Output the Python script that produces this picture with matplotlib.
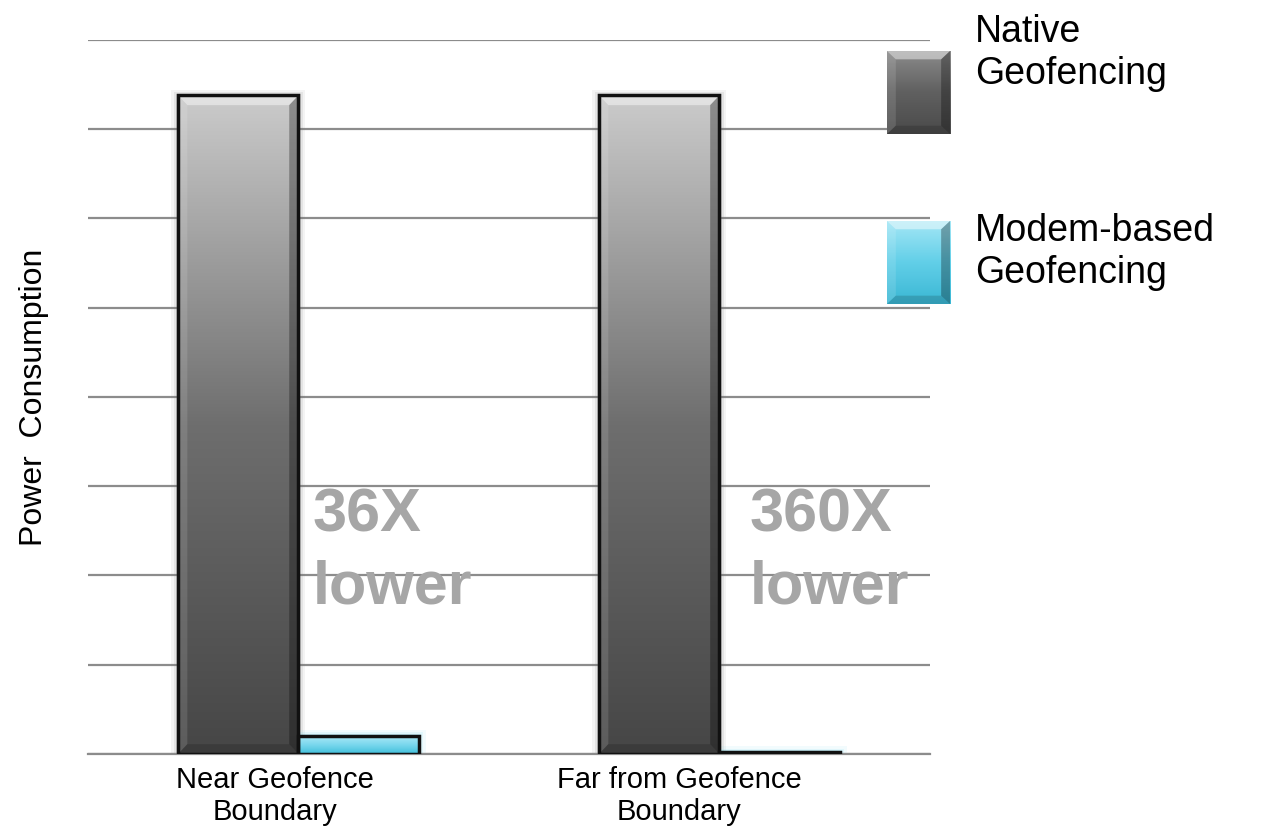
import numpy as np
import matplotlib.pyplot as plt
from matplotlib.colors import LinearSegmentedColormap
from matplotlib.patches import Rectangle, Polygon

plt.rcParams['font.family'] = ['Liberation Sans', 'DejaVu Sans']

categories = ['Near Geofence\nBoundary', 'Far from Geofence\nBoundary']
native = [7.38, 7.38]
modem = [0.205, 0.02]
ratios = ['36X\nlower', '360X\nlower']
series = ['Native\nGeofencing', 'Modem-based\nGeofencing']

gray_cmap = LinearSegmentedColormap.from_list('g', ['#464646', '#6e6e6e', '#cbcbcb'])
cyan_cmap = LinearSegmentedColormap.from_list('c', ['#40bfda', '#7bd8ee', '#b0eaf7'])
leg_gray = LinearSegmentedColormap.from_list('lg', ['#4a4a4a', '#606060', '#8c8c8c'])
leg_cyan = LinearSegmentedColormap.from_list('lc', ['#3ab7d4', '#62cfe8', '#a6e7f6'])

fig = plt.figure(figsize=(12.68, 8.31), dpi=100)
ax = fig.add_axes([0.0694, 0.0927, 0.664, 0.8592])

ax.set_xlim(-0.5, 1.5)
ax.set_ylim(0, 8)
ax.set_yticks(range(0, 9))
ax.yaxis.grid(True, color='#8c8c8c', linewidth=1.6)
ax.set_axisbelow(True)
ax.tick_params(left=False, labelleft=False, bottom=False)
for s in ['left', 'right', 'top']:
    ax.spines[s].set_visible(False)
ax.spines['bottom'].set_color('#8c8c8c')
ax.spines['bottom'].set_linewidth(1.6)

w = 0.286
grad = np.linspace(0, 1, 256).reshape(-1, 1)


def bevel(a, x0, y0, x1, y1, bx, by, tr, z):
    # light top/left, dark right/bottom edges
    faces = [
        ([(x0, y1), (x1, y1), (x1 - bx, y1 - by), (x0 + bx, y1 - by)], 'white', 0.45),
        ([(x0, y0), (x0, y1), (x0 + bx, y1 - by), (x0 + bx, y0 + by)], 'white', 0.12),
        ([(x1, y0), (x1, y1), (x1 - bx, y1 - by), (x1 - bx, y0 + by)], 'black', 0.30),
        ([(x0, y0), (x1, y0), (x1 - bx, y0 + by), (x0 + bx, y0 + by)], 'black', 0.15),
    ]
    for pts, c, al in faces:
        a.add_patch(Polygon(pts, closed=True, facecolor=c, edgecolor='none', alpha=al,
                            transform=tr, zorder=z))


def gradient_bar(x, h, cmap, glow, with_bevel):
    for k, a in [(0.016, 0.08), (0.010, 0.12), (0.005, 0.18)]:
        ax.add_patch(Rectangle((x - k, 0), w + 2 * k, h + k * 4, facecolor=glow,
                               edgecolor='none', alpha=a, zorder=2))
    im = ax.imshow(grad, extent=[x, x + w, 0, h], origin='lower', aspect='auto',
                   cmap=cmap, vmin=0, vmax=1, zorder=3)
    r = Rectangle((x, 0), w, h, facecolor='none', edgecolor='#111111', linewidth=2.5, zorder=5)
    ax.add_patch(r)
    im.set_clip_path(r)
    if with_bevel:
        bevel(ax, x, 0, x + w, h, 0.022, 0.11, ax.transData, 4)


for i in range(len(categories)):
    gradient_bar(i - w, native[i], gray_cmap, '#777777', True)
    gradient_bar(i, modem[i], cyan_cmap, '#5fd8f0', False)

ratio_x = [0.034, 1.072]
for i in range(len(ratios)):
    ax.text(ratio_x[i], 2.99, ratios[i], color='#a6a6a6', fontsize=44, fontweight='bold',
            va='top', ha='left', linespacing=1.36, zorder=6)

ax.set_xticks([-0.056, 0.904])
ax.set_xticklabels(categories, fontsize=21, linespacing=1.2)
ax.tick_params(axis='x', pad=5)
ax.set_ylabel('Power  Consumption', fontsize=23, labelpad=28)

# legend
leg_y = [0.8387, 0.6342]
leg_cmaps = [leg_gray, leg_cyan]
leg_text_y = [0.936, 0.697]
for j in range(len(series)):
    lax = fig.add_axes([0.6995, leg_y[j], 0.0497, 0.0999])
    lax.imshow(grad, origin='lower', aspect='auto', cmap=leg_cmaps[j], vmin=0, vmax=1,
               extent=[0, 1, 0, 1])
    bevel(lax, 0, 0, 1, 1, 0.14, 0.1, lax.transAxes, 3)
    lax.set_xlim(0, 1)
    lax.set_ylim(0, 1)
    lax.axis('off')
    fig.text(0.769, leg_text_y[j], series[j], fontsize=27, va='center', ha='left',
             linespacing=1.22)

fig.savefig('out.png', dpi=100)
